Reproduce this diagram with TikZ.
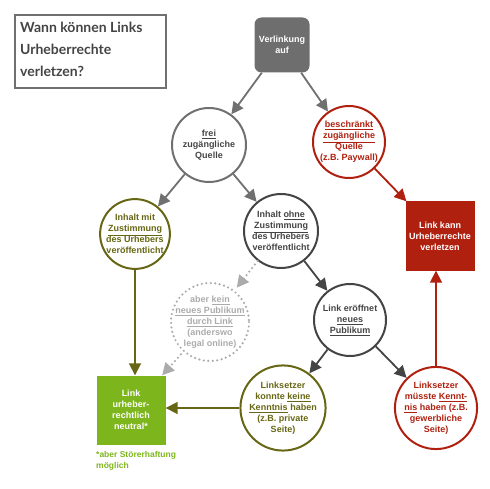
\documentclass[tikz,border=0pt]{standalone}
\usepackage{fontspec}
\setmainfont{Liberation Sans}
\newfontfamily\titlefont{Lato}
\usetikzlibrary{arrows.meta}
\definecolor{greyfill}{HTML}{6E6E6E}
\definecolor{greyline}{HTML}{707070}
\definecolor{darkline}{HTML}{444444}
\definecolor{olive}{HTML}{666614}
\definecolor{redbox}{HTML}{B0200F}
\definecolor{greenbox}{HTML}{7DB61C}
\definecolor{dotgrey}{HTML}{ABABAB}
\begin{document}
\begin{tikzpicture}[x=1pt,y=-1pt,>={Triangle[length=12pt,width=12pt]},
  every node/.style={font=\bfseries\fontsize{9}{11}\selectfont,align=center,inner sep=0pt},
  bubble/.style={circle,draw,line width=2pt,minimum size=74pt},
  square/.style={rectangle,minimum size=69pt,text=white},
  conn/.style={->,line width=1.8pt},
  dots/.style={->,line width=2.4pt,dotgrey,line cap=round,dash pattern=on 0pt off 4.5pt}]
\path[use as bounding box] (0,0) rectangle (490,489);

\draw[greyline,line width=1.2pt] (15,15) rectangle (166,88);
\node[anchor=north west,align=left,text=darkline,font=\titlefont\bfseries\fontsize{14}{22}\selectfont] (title) at (20,22)
  {Wann können Links\\Urheberrechte\\verletzen?};

\node[rectangle,rounded corners=7pt,fill=greyfill,minimum size=55pt,text=white] (verl) at (282,45) {Verlinkung\\auf};
\node[bubble,draw=greyline,text=darkline] (frei) at (209,145) {\underline{frei}\\zugängliche\\Quelle};
\node[bubble,draw=redbox,text=redbox,minimum size=72pt] (beschr) at (349,142) {\underline{beschränkt}\\\underline{zugängliche}\\Quelle\\(z.B. Paywall)};
\node[square,fill=redbox] (kann) at (440,236) {Link kann\\Urheberrechte\\verletzen};
\node[bubble,draw=olive,text=olive,minimum size=68pt] (mit) at (135,234) {Inhalt mit\\\underline{Zustimmung}\\des Urhebers\\veröffentlicht};
\node[bubble,draw=darkline,text=darkline] (ohne) at (281,231) {Inhalt \underline{ohne}\\\underline{Zustimmung}\\des Urhebers\\veröffentlicht};
\node[circle,minimum size=76pt,text=dotgrey] (aber) at (210,322) {aber \underline{kein}\\\underline{neues Publikum}\\\underline{durch Link}\\(anderswo\\legal online)};
\draw[dotgrey,line width=2.4pt,line cap=round,dash pattern=on 0pt off 4.5pt] (aber) circle (39);
\node[bubble,draw=darkline,text=darkline,minimum size=72pt] (eroeff) at (350,320) {Link eröffnet\\\underline{neues}\\\underline{Publikum}};
\node[square,fill=greenbox] (neutral) at (131,410) {Link\\urheber-\\rechtlich\\neutral*};
\node[bubble,draw=olive,text=olive] (konnte) at (283,408) {Linksetzer\\konnte \underline{keine}\\\underline{Kenntnis} haben\\(z.B. private\\Seite)};
\node[bubble,draw=redbox,text=redbox] (muesste) at (436,408) {Linksetzer\\müsste \underline{Kennt-}\\\underline{nis} haben (z.B.\\gewerbliche\\Seite)};
\node[anchor=north west,align=left,text=greenbox,font=\bfseries\fontsize{8.5}{11}\selectfont] (note) at (96,451) {*aber Störerhaftung\\möglich};

\draw[conn,greyline] (verl) -- (frei);
\draw[conn,greyline] (verl) -- (beschr);
\draw[conn,greyline] (frei) -- (mit);
\draw[conn,greyline] (frei) -- (ohne);
\draw[conn,redbox] (beschr) -- (kann);
\draw[conn,olive] (mit.south) -- (mit.south |- neutral.north);
\draw[dots] (ohne) -- (aber);
\draw[dots] (aber) -- (neutral);
\draw[conn,darkline] (ohne) -- (eroeff);
\draw[conn,darkline] (eroeff) -- (konnte);
\draw[conn,darkline] (eroeff) -- (muesste);
\draw[conn,redbox] (muesste.north) -- (muesste.north |- kann.south);
\draw[conn,olive] (konnte.west) -- (konnte.west -| neutral.east);

\end{tikzpicture}
\end{document}
